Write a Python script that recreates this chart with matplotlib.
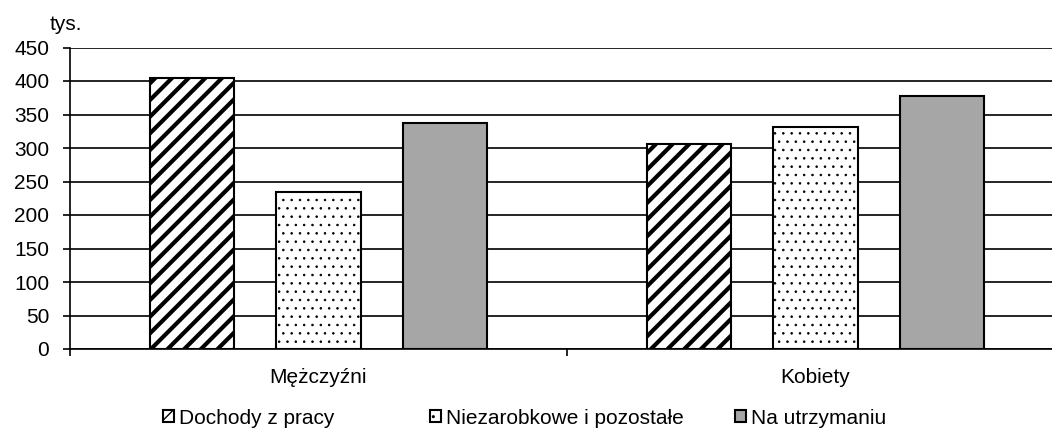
import matplotlib
matplotlib.use("Agg")
import matplotlib.pyplot as plt
import numpy as np

plt.rcParams['font.family'] = ['Liberation Sans', 'DejaVu Sans']

categories = ["Mężczyźni", "Kobiety"]
series_names = ["Dochody z pracy", "Niezarobkowe i pozostałe", "Na utrzymaniu"]
dochody = [405, 306]
niezarobkowe = [234, 331]
utrzymanie = [337, 378]
yticks = [0, 50, 100, 150, 200, 250, 300, 350, 400, 450]

W, H = 1052, 428
fig = plt.figure(figsize=(W / 100, H / 100), dpi=100)
ax = fig.add_axes([70 / W, (H - 349) / H, 1 - 70 / W, 301.5 / H])

x = np.arange(len(categories))
w = 0.170
off = 0.2545
styles = [
    dict(facecolor='white', hatch='//', hlw=3.0),
    dict(facecolor='white', hatch='..', hlw=0.6),
    dict(facecolor='#a6a6a6', hatch=None, hlw=1.0),
]
handles = []
for i, (vals, st, name) in enumerate(zip([dochody, niezarobkowe, utrzymanie], styles, series_names)):
    with plt.rc_context({'hatch.linewidth': st['hlw']}):
        bars = ax.bar(x + (i - 1) * off, vals, width=w, facecolor=st['facecolor'],
                      edgecolor='black', linewidth=1.5, hatch=st['hatch'], zorder=3, label=name)
    for b in bars:
        if hasattr(b, 'set_hatch_linewidth'):
            b.set_hatch_linewidth(st['hlw'])
    handles.append(bars)

ax.set_ylim(0, 450)
ax.set_xlim(-0.5, 1.476)
ax.set_yticks(yticks)
ax.set_yticklabels([str(v) for v in yticks], fontsize=15)
ax.yaxis.grid(True, color='black', linewidth=1.2, zorder=0)
ax.set_axisbelow(True)
ax.set_xticks([-0.5, 0.5])
ax.set_xticklabels([])
ax.set_xticks(x, minor=True)
ax.set_xticklabels(categories, minor=True, fontsize=15)
ax.tick_params(axis='x', which='minor', length=0, pad=14)
ax.tick_params(axis='x', which='major', length=5, width=1.2, direction='out')
ax.tick_params(axis='y', length=5, width=1.2, direction='out', pad=10)
for s in ['top', 'right']:
    ax.spines[s].set_visible(False)
for s in ['left', 'bottom']:
    ax.spines[s].set_linewidth(1.2)

fig.text(50 / W, 1 - 24 / H, "tys.", fontsize=15, ha='left', va='center')

legend_x = [163, 430, 735]
for h, name, lx in zip(handles, series_names, legend_x):
    leg = fig.legend(handles=[h], labels=[name], loc='center left',
                     bbox_to_anchor=(lx / W, 1 - 418 / H), frameon=False, fontsize=15,
                     handlelength=0.55, handleheight=0.55, handletextpad=0.2,
                     borderpad=0, borderaxespad=0)

fig.savefig("out.png", dpi=100)
